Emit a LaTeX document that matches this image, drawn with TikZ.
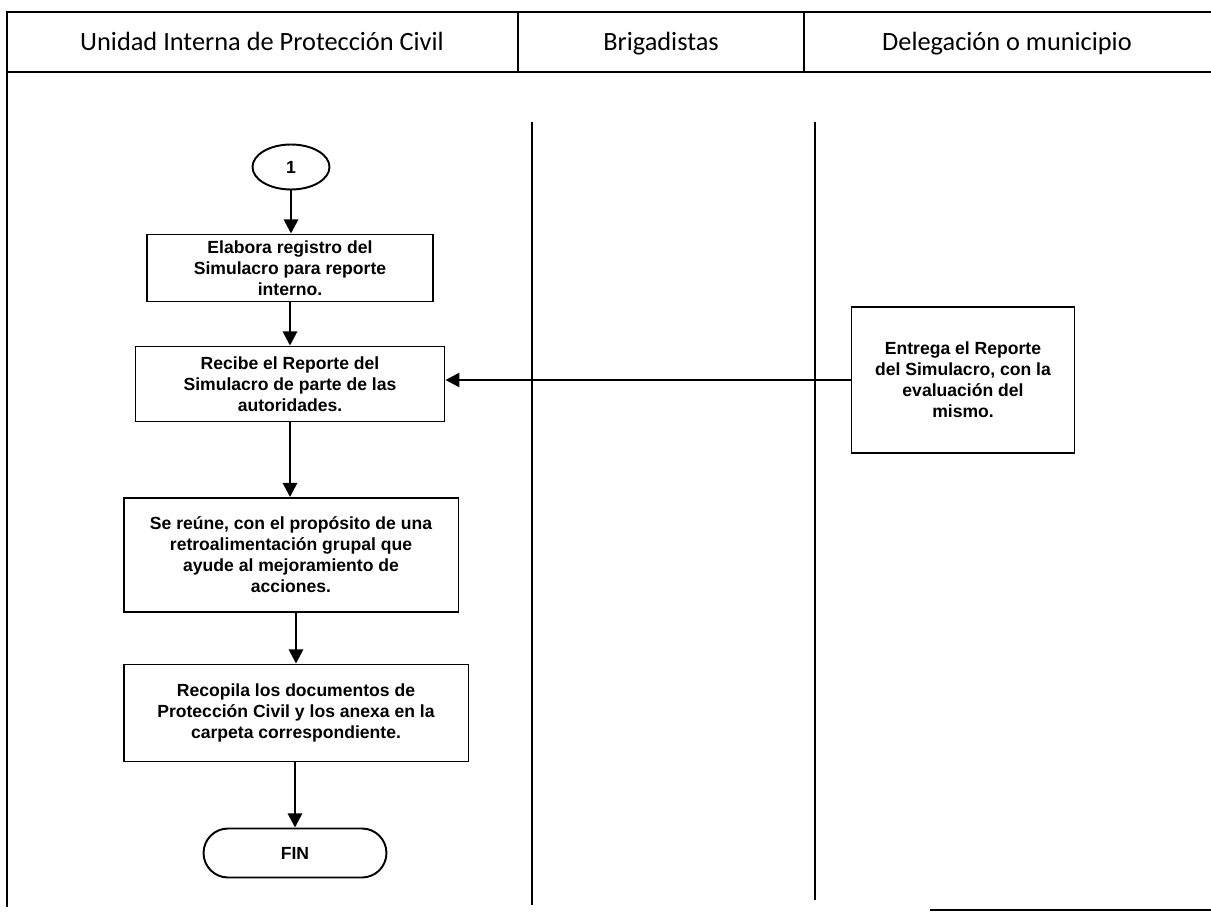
\documentclass[tikz,border=0pt]{standalone}
\usepackage{fontspec}
\setmainfont{Liberation Sans}
\newfontfamily\headfont{Carlito}
\usetikzlibrary{arrows.meta,shapes.geometric,shapes.misc}

\begin{document}
\begin{tikzpicture}[x=0.02cm,y=-0.02cm]
		\tikzstyle{every node}+=[inner sep=2pt]
		\tikzstyle{lane}=[font=\headfont\fontsize{15}{17}\selectfont,text height=11pt,text depth=3pt]
		\tikzstyle{proc}=[draw,line width=1.1pt,align=center,font=\bfseries\fontsize{10}{12}\selectfont]
		\tikzstyle{flow}=[line width=1.5pt,-{Triangle[length=8pt,width=8pt]}]
		\useasboundingbox (0,0) rectangle (1211,919);
		% header
		\draw [black,line width=1pt] (1211,12) -- (7,12) -- (7,907);
		\draw [black,line width=1pt] (7,72) -- (1211,72);
		\draw [black,line width=0.8pt] (518,12) -- (518,72);
		\draw [black,line width=0.8pt] (804,12) -- (804,72);
		\node [lane] (hUnidad) at (262,43) {Unidad Interna de Protección Civil};
		\node [lane] (hBrig) at (661,43) {Brigadistas};
		\node [lane] (hDeleg) at (1007,43) {Delegación o municipio};
		% lanes
		\draw [black,line width=1.1pt] (532,122) -- (532,905);
		\draw [black,line width=1.1pt] (815,122) -- (815,900);
		\draw [black,line width=1pt] (930,910) -- (1211,910);
		% nodes
		\node [draw,ellipse,line width=1.1pt,minimum width=1.54cm,minimum height=0.9cm,font=\bfseries\fontsize{10}{12}\selectfont] (uno) at (291,167) {1};
		\node [proc,minimum width=5.72cm,minimum height=1.34cm] (elabora) at (290,268) {Elabora registro del\\Simulacro para reporte\\interno.};
		\node [proc,minimum width=6.18cm,minimum height=1.5cm] (recibe) at (290,384) {Recibe el Reporte del\\Simulacro de parte de las\\autoridades.};
		\node [proc,minimum width=6.7cm,minimum height=2.28cm] (reune) at (291,555) {Se reúne, con el propósito de una\\retroalimentación grupal que\\ayude al mejoramiento de\\acciones.};
		\node [proc,minimum width=6.9cm,minimum height=1.94cm] (recopila) at (296,713) {Recopila los documentos de\\Protección Civil y los anexa en la\\carpeta correspondiente.};
		\node [draw,rounded rectangle,line width=1.1pt,minimum width=3.8cm,minimum height=0.98cm,font=\bfseries\fontsize{10}{12}\selectfont] (fin) at (295,853) {FIN};
		\node [proc,minimum width=4.46cm,minimum height=2.92cm] (entrega) at (963,380) {Entrega el Reporte\\del Simulacro, con la\\evaluación del\\mismo.};
		% connectors
		\draw [flow] (uno) -- (uno |- elabora.north);
		\draw [flow] (elabora) -- (elabora |- recibe.north);
		\draw [flow] (recibe) -- (recibe |- reune.north);
		\draw [flow] (recopila |- reune.south) -- (recopila.north);
		\draw [flow] (fin |- recopila.south) -- (fin.north);
		\draw [flow] (entrega.west) -- (entrega.west -| recibe.east);
	\end{tikzpicture}
\end{document}
